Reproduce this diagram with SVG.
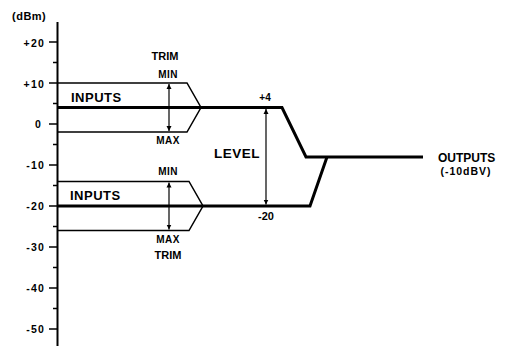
<svg xmlns="http://www.w3.org/2000/svg" width="516" height="346" viewBox="0 0 516 346">
<style>
text{font-family:"Liberation Sans",Arial,sans-serif;font-weight:bold;fill:#000}
.ax{font-size:10.5px;text-anchor:end;letter-spacing:1.2px}
.lb{font-size:10px;text-anchor:middle;letter-spacing:0.4px}
.big{font-size:13px;letter-spacing:0.5px}
.thin{stroke:#000;stroke-width:1.5;fill:none}
.thick{stroke:#000;stroke-width:3;fill:none;stroke-linejoin:miter}
.arr{stroke:#000;stroke-width:1.2;fill:none;marker-start:url(#ah);marker-end:url(#ah)}
</style>
<defs>
<marker id="ah" viewBox="0 0 10 10" refX="10" refY="5" markerWidth="5" markerHeight="7" orient="auto-start-reverse" markerUnits="userSpaceOnUse">
<path d="M0,0 L10,5 L0,10 Z" fill="#000"/>
</marker>
</defs>
<rect width="516" height="346" fill="#fff"/>
<g id="axis">
<line x1="57.5" y1="22" x2="57.5" y2="346" stroke="#000" stroke-width="2"/>
<g stroke="#000" stroke-width="1.5">
<line x1="49" y1="42" x2="57" y2="42"/>
<line x1="53" y1="62.5" x2="57" y2="62.5"/>
<line x1="49" y1="83" x2="57" y2="83"/>
<line x1="53" y1="103.5" x2="57" y2="103.5"/>
<line x1="49" y1="124" x2="57" y2="124"/>
<line x1="53" y1="144.5" x2="57" y2="144.5"/>
<line x1="49" y1="165" x2="57" y2="165"/>
<line x1="53" y1="185.5" x2="57" y2="185.5"/>
<line x1="49" y1="206" x2="57" y2="206"/>
<line x1="53" y1="226.5" x2="57" y2="226.5"/>
<line x1="49" y1="247" x2="57" y2="247"/>
<line x1="53" y1="267.5" x2="57" y2="267.5"/>
<line x1="49" y1="288" x2="57" y2="288"/>
<line x1="53" y1="308.5" x2="57" y2="308.5"/>
<line x1="49" y1="329" x2="57" y2="329"/>
</g>
<text x="12" y="20" style="font-size:11px;letter-spacing:0.5px">(dBm)</text>
<text class="ax" x="45" y="47">+20</text>
<text class="ax" x="45" y="88">+10</text>
<text class="ax" x="42" y="128">0</text>
<text class="ax" x="45" y="169">-10</text>
<text class="ax" x="45" y="210">-20</text>
<text class="ax" x="45" y="251">-30</text>
<text class="ax" x="45" y="292">-40</text>
<text class="ax" x="45" y="333">-50</text>
</g>
<g id="connectors">
<polyline class="thin" points="58,83 187,83 201,107.5 187,132 58,132"/>
<polyline class="thin" points="58,181.5 189,181.5 203,206 189,230.5 58,230.5"/>
<polyline class="thick" points="58,107.5 282,107.5 306,157 423,157"/>
<polyline class="thick" points="58,206 310,206 327,157"/>
<line class="arr" x1="169" y1="84" x2="169" y2="131"/>
<line class="arr" x1="169" y1="182.5" x2="169" y2="229.5"/>
<line class="arr" x1="266" y1="109" x2="266" y2="204.5"/>
</g>
<g id="trim-upper">
<text x="165" y="60" style="font-size:11px;text-anchor:middle">TRIM</text>
<text class="lb" x="168" y="78">MIN</text>
<text class="lb" x="168" y="144">MAX</text>
</g>
<g id="inputs-upper"><text class="big" x="71" y="102">INPUTS</text></g>
<g id="trim-lower">
<text class="lb" x="168" y="175">MIN</text>
<text class="lb" x="168" y="243">MAX</text>
<text x="168" y="259" style="font-size:11px;text-anchor:middle">TRIM</text>
</g>
<g id="inputs-lower"><text class="big" x="70" y="200">INPUTS</text></g>
<g id="level">
<text x="265" y="101" style="font-size:10px;text-anchor:middle">+4</text>
<text x="214" y="158" style="font-size:13.5px;letter-spacing:0.5px">LEVEL</text>
<text x="266" y="220" style="font-size:11px;text-anchor:middle">-20</text>
</g>
<g id="outputs">
<text x="438" y="162" style="font-size:12px">OUTPUTS</text>
<text x="466" y="175" style="font-size:10.5px;text-anchor:middle;letter-spacing:1px">(-10dBV)</text>
</g>
</svg>
